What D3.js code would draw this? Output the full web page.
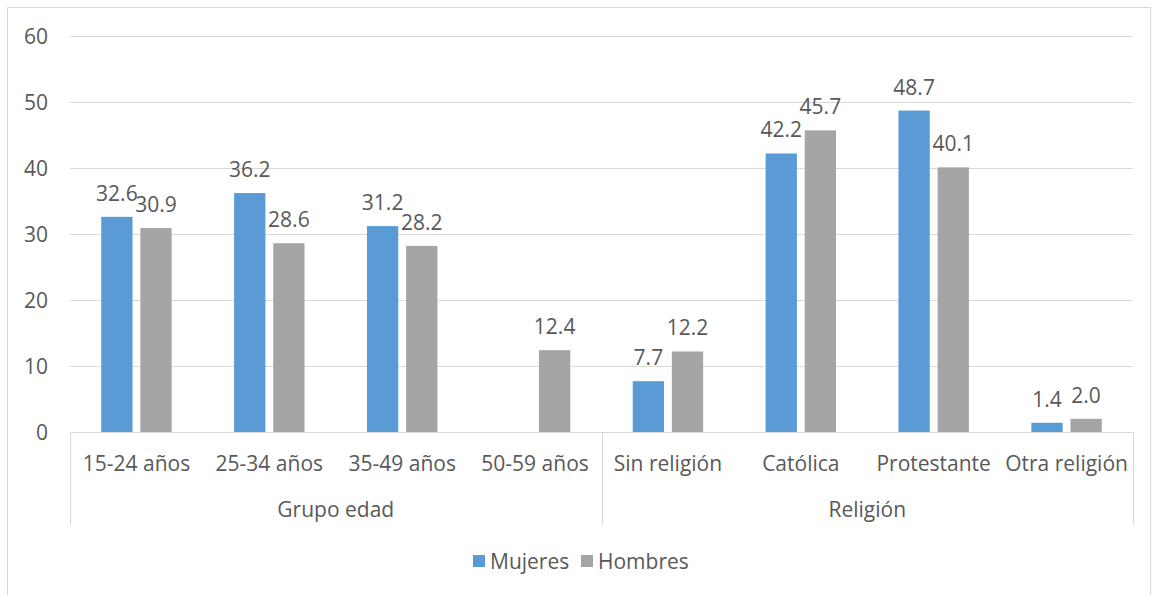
<!DOCTYPE html>
<html>
<head>
<meta charset="utf-8">
<script src="https://cdn.jsdelivr.net/npm/d3@7"></script>
<style>
  body { margin: 0; background: #fff; }
  text { font-family: "Open Sans", "Noto Sans", sans-serif; fill: #595959; }
</style>
</head>
<body>
<div id="chart"></div>
<script>
// Chart data
const categories = ["15-24 años", "25-34 años", "35-49 años", "50-59 años",
                    "Sin religión", "Católica", "Protestante", "Otra religión"];
const groups = ["Grupo edad", "Religión"];
const groupSizes = [4, 4];
const mujeres = [32.6, 36.2, 31.2, null, 7.7, 42.2, 48.7, 1.4];
const hombres = [30.9, 28.6, 28.2, 12.4, 12.2, 45.7, 40.1, 2.0];
const seriesNames = ["Mujeres", "Hombres"];
const yTicks = [0, 10, 20, 30, 40, 50, 60];

const width = 1154;
const height = 595;
const marginLeft = 70;
const marginRight = 21;
const plotTop = 36;
const plotBottom = 432;
const fontSize = 21;

const colors = ["#5B9BD5", "#A5A5A5"];

const svg = d3.select("#chart")
    .append("svg")
    .attr("width", width)
    .attr("height", height);

// outer chart border
svg.append("rect")
    .attr("x", 7.5).attr("y", 7.5)
    .attr("width", 1143).attr("height", 600)
    .attr("fill", "none")
    .attr("stroke", "#d9d9d9");

const x = d3.scaleBand()
    .domain(categories)
    .range([marginLeft, width - marginRight])
    .paddingInner(0.47)
    .paddingOuter(0.235);

const xInner = d3.scaleBand()
    .domain(seriesNames)
    .range([0, x.bandwidth()])
    .paddingInner(0.2);

const y = d3.scaleLinear()
    .domain([0, 60])
    .range([plotBottom, plotTop]);

// gridlines
svg.append("g")
    .selectAll("line")
    .data(yTicks.filter(d => d > 0))
    .join("line")
    .attr("x1", marginLeft)
    .attr("x2", width - marginRight)
    .attr("y1", d => y(d) + 0.5)
    .attr("y2", d => y(d) + 0.5)
    .attr("stroke", "#d9d9d9")
    .attr("stroke-width", 1);

// y axis labels
svg.append("g")
    .selectAll("text")
    .data(yTicks)
    .join("text")
    .attr("x", 48)
    .attr("y", d => y(d))
    .attr("dy", "0.36em")
    .attr("text-anchor", "end")
    .attr("font-size", fontSize)
    .text(d => d);

// bars
const series = [mujeres, hombres];
series.forEach((vals, si) => {
    const g = svg.append("g");
    const data = categories.map((c, i) => ({ c, v: vals[i] })).filter(d => d.v !== null);
    g.selectAll("rect")
        .data(data)
        .join("rect")
        .attr("x", d => x(d.c) + xInner(seriesNames[si]))
        .attr("y", d => y(d.v))
        .attr("width", xInner.bandwidth())
        .attr("height", d => y(0) - y(d.v))
        .attr("fill", colors[si]);
    g.selectAll("text")
        .data(data)
        .join("text")
        .attr("x", d => x(d.c) + xInner(seriesNames[si]) + xInner.bandwidth() / 2)
        .attr("y", d => y(d.v) - 16)
        .attr("text-anchor", "middle")
        .attr("font-size", fontSize)
        .text(d => d.v.toFixed(1));
});

// category axis
const axisG = svg.append("g").attr("stroke", "#d9d9d9");
axisG.append("line")
    .attr("x1", marginLeft).attr("x2", width - marginRight)
    .attr("y1", plotBottom + 0.5).attr("y2", plotBottom + 0.5);

let start = 0;
const bounds = [0];
groupSizes.forEach(n => { start += n; bounds.push(start); });
const boundX = i => marginLeft + (width - marginRight - marginLeft) * i / categories.length;

axisG.selectAll("line.sep")
    .data(bounds)
    .join("line")
    .attr("class", "sep")
    .attr("x1", d => Math.round(boundX(d)) + 0.5)
    .attr("x2", d => Math.round(boundX(d)) + 0.5)
    .attr("y1", plotBottom)
    .attr("y2", 525);

svg.append("g")
    .selectAll("text")
    .data(categories)
    .join("text")
    .attr("x", d => x(d) + x.bandwidth() / 2)
    .attr("y", 471)
    .attr("text-anchor", "middle")
    .attr("font-size", fontSize)
    .text(d => d);

svg.append("g")
    .selectAll("text")
    .data(groups)
    .join("text")
    .attr("x", (d, i) => (boundX(bounds[i]) + boundX(bounds[i + 1])) / 2)
    .attr("y", 517)
    .attr("text-anchor", "middle")
    .attr("font-size", fontSize)
    .text(d => d);

// legend
const legendX = [473, 581];
const legend = svg.append("g");
seriesNames.forEach((name, i) => {
    legend.append("rect")
        .attr("x", legendX[i]).attr("y", 555)
        .attr("width", 12).attr("height", 12)
        .attr("fill", colors[i]);
    legend.append("text")
        .attr("x", legendX[i] + 17).attr("y", 569)
        .attr("font-size", fontSize)
        .text(name);
});
</script>
</body>
</html>
